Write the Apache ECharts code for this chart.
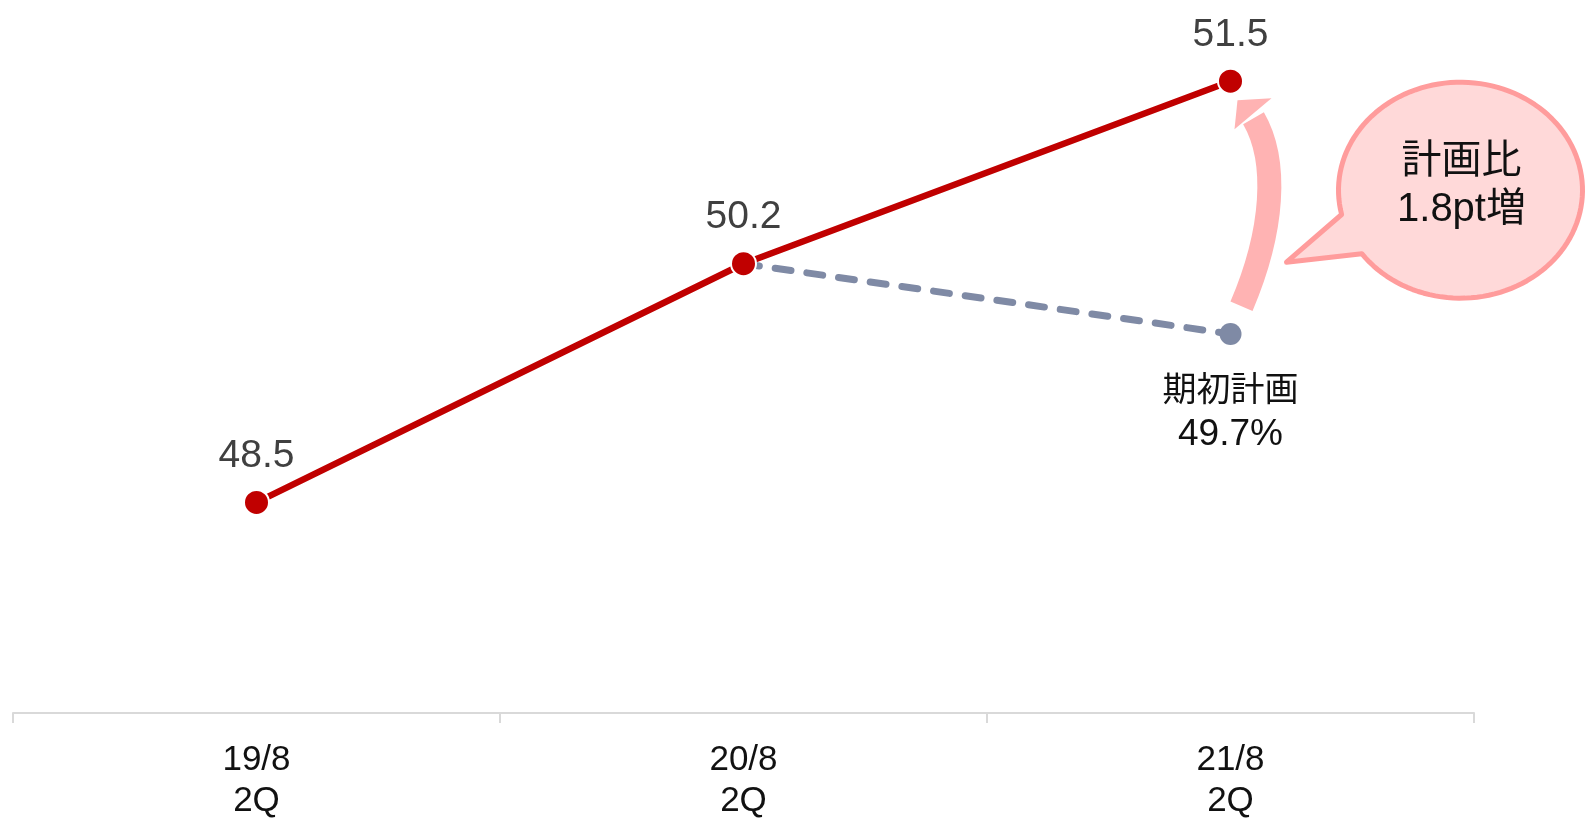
<!DOCTYPE html>
<html>
<head>
<meta charset="utf-8">
<script src="https://cdn.jsdelivr.net/npm/echarts@6/dist/echarts.min.js"></script>
<style>
html,body{margin:0;padding:0;background:#fff;}
#main{width:1587px;height:822px;}
</style>
</head>
<body>
<div id="main"></div>
<script>
const categories = ['19/8\n2Q', '20/8\n2Q', '21/8\n2Q'];
const actualValues = [48.5, 50.2, 51.5];
const planValues = [null, 50.2, 49.7];
const planLabel = '期初計画';
const calloutText = '計画比\n1.8pt増';

const FONT = '"Liberation Sans", "Noto Sans CJK JP", sans-serif';
const chart = echarts.init(document.getElementById('main'));

const planData = planValues.map((v, i) => {
  if (v === null) return null;
  if (i === planValues.length - 1) {
    return {
      value: v,
      symbol: 'circle',
      label: {
        show: true,
        position: 'bottom',
        distance: 26,
        formatter: (p) => '{a|' + planLabel + '}\n{b|' + p.value + '%}',
        rich: {
          a: { fontSize: 34, lineHeight: 42, color: '#111', fontFamily: FONT },
          b: { fontSize: 37, lineHeight: 44, color: '#111', fontFamily: FONT }
        }
      }
    };
  }
  return { value: v, symbol: 'none' };
});

chart.setOption({
  animation: false,
  backgroundColor: '#fff',
  grid: { left: 13, right: 113, top: 11, bottom: 102 },
  xAxis: {
    type: 'category',
    data: categories,
    boundaryGap: true,
    axisLine: { lineStyle: { color: '#D9D9D9', width: 2 } },
    axisTick: { show: true, length: 10, lineStyle: { color: '#D9D9D9', width: 2 } },
    axisLabel: { fontSize: 35, lineHeight: 41, margin: 27, color: '#111', fontFamily: FONT }
  },
  yAxis: {
    type: 'value',
    min: 47,
    max: 52,
    show: false,
    splitLine: { show: false }
  },
  series: [
    {
      type: 'line',
      name: 'plan',
      data: planData,
      z: 1,
      symbolSize: 22,
      lineStyle: { color: '#7F8AA5', width: 7, type: [16, 16], cap: 'round' },
      itemStyle: { color: '#7F8AA5' }
    },
    {
      type: 'line',
      name: 'actual',
      data: actualValues,
      z: 3,
      symbol: 'circle',
      symbolSize: 25,
      lineStyle: { color: '#C00000', width: 6.5 },
      itemStyle: { color: '#C00000', borderColor: '#fff', borderWidth: 2 },
      label: {
        show: true,
        position: 'top',
        distance: 13,
        fontSize: 39,
        lineHeight: 39,
        color: '#404040',
        fontFamily: FONT
      }
    }
  ]
});

// Annotation anchored to the last actual point
const A = chart.convertToPixel({ gridIndex: 0 }, [2, actualValues[2]]);
const ax = A[0], ay = A[1];

// Callout bubble (ellipse with tail) as polygon
const cx = ax + 230, cy = ay + 109, rx = 122, ry = 108;
const tip = [ax + 56, ay + 181];
const a0 = 167 * Math.PI / 180, a1 = (144 + 360) * Math.PI / 180;
const pts = [tip];
const N = 120;
for (let k = 0; k <= N; k++) {
  const t = a0 + (a1 - a0) * k / N;
  pts.push([cx + rx * Math.cos(t), cy + ry * Math.sin(t)]);
}

chart.setOption({
  graphic: [
    {
      type: 'bezierCurve',
      shape: {
        x1: ax + 11, y1: ay + 225,
        cpx1: ax + 43, cpy1: ay + 150,
        cpx2: ax + 48, cpy2: ay + 80,
        x2: ax + 23, y2: ay + 37
      },
      style: { stroke: '#FFB3B3', lineWidth: 24, fill: null, lineCap: 'butt' },
      z: 5
    },
    {
      type: 'polygon',
      shape: { points: [[ax + 4, ay + 48], [ax + 7, ay + 19], [ax + 41, ay + 17]] },
      style: { fill: '#FFB3B3' },
      z: 5
    },
    {
      type: 'polygon',
      shape: { points: pts },
      style: { fill: '#FFD9D9', stroke: '#FF9C9C', lineWidth: 5, lineJoin: 'round' },
      z: 5
    },
    {
      type: 'text',
      x: cx + 1,
      y: cy - 4,
      style: {
        text: calloutText,
        fontSize: 40,
        lineHeight: 48,
        fill: '#111',
        fontFamily: FONT,
        align: 'center',
        verticalAlign: 'middle'
      },
      z: 6
    }
  ]
});
</script>
</body>
</html>
